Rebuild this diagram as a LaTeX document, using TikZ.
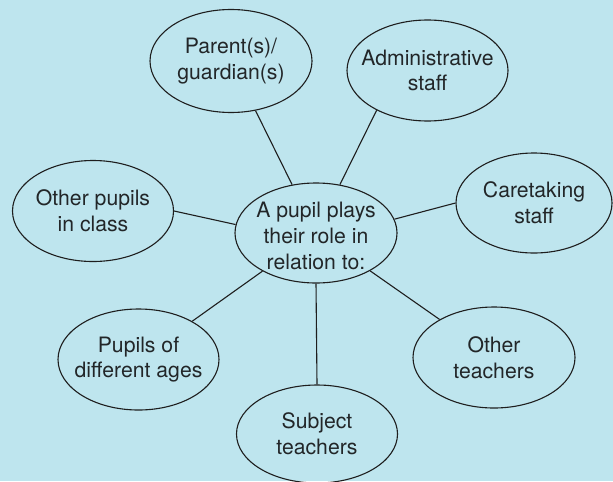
\documentclass[tikz,border=0pt]{standalone}
\usepackage{fontspec}
\setmainfont{TeX Gyre Heros}
\usetikzlibrary{shapes.geometric}
\definecolor{bgblue}{RGB}{190,229,238}
\definecolor{inkc}{RGB}{30,30,30}
\definecolor{textc}{RGB}{34,38,40}
\tikzset{
  bubble/.style={ellipse, draw=inkc, line width=0.55pt, inner sep=0pt,
    minimum width=80.5pt, minimum height=50.5pt},
  bubtext/.style={align=center, inner sep=0pt, text=textc,
    font=\fontsize{10.6pt}{12.8pt}\selectfont},
  link/.style={draw=inkc, line width=0.55pt}
}
\begin{document}
\begin{tikzpicture}[x=0.5pt, y=-0.5pt]
  \fill[bgblue] (0,0) rectangle (613,481);
  \useasboundingbox (0,0) rectangle (613,481);
  \begin{scope}
  \clip (0,0) rectangle (613,481);
  \node[bubble, minimum width=81pt, minimum height=51.5pt] (par) at (231,61) {};
  \node[bubble] (adm) at (427.5,70.5) {};
  \node[bubble] (op) at (93,211) {};
  \node[bubble, minimum width=81pt, minimum height=50pt] (ctr) at (316,233) {};
  \node[bubble, minimum width=78pt, minimum height=50pt] (care) at (534,203) {};
  \node[bubble] (pda) at (138.5,359.5) {};
  \node[bubble, minimum height=49pt] (subj) at (317,434) {};
  \node[bubble, minimum width=81pt] (ot) at (494,357.5) {};

  \node[bubtext] (par-t) at (par) {Parent(s)/\\guardian(s)};
  \node[bubtext] (adm-t) at (adm) {Administrative\\staff};
  \node[bubtext] (op-t) at (op) {Other pupils\\in class};
  \node[bubtext] (ctr-t) at ([yshift=-1.5]ctr.center) {A pupil plays\\their role in\\relation to:};
  \node[bubtext] (care-t) at (care) {Caretaking\\staff};
  \node[bubtext] (pda-t) at (pda) {Pupils of\\different ages};
  \node[bubtext] (subj-t) at (subj) {Subject\\teachers};
  \node[bubtext] (ot-t) at (ot) {Other\\teachers};

  \draw[link] (ctr) -- (par);
  \draw[link] (ctr) -- (adm.218);
  \draw[link] (op.east) -- (ctr.174);
  \draw[link] (ctr.10) -- (care.west);
  \draw[link] (ctr) -- (pda);
  \draw[link] (ctr.south) -- (subj.north);
  \draw[link] (ctr) -- (ot);
  \end{scope}
\end{tikzpicture}
\end{document}
